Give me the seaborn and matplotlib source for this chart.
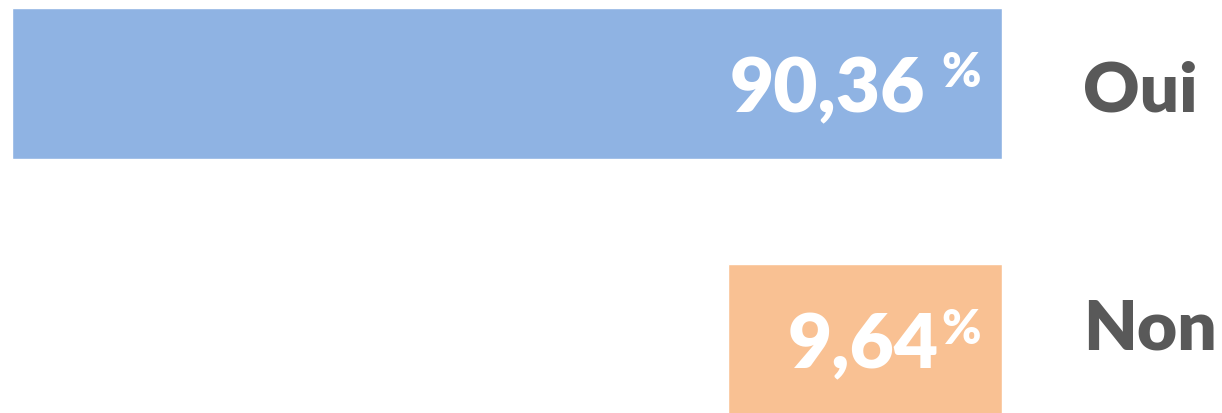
import numpy as np
import matplotlib
matplotlib.use("Agg")
import matplotlib.pyplot as plt
import seaborn as sns

# data
categories = ["Oui", "Non"]
values = [90.36, 9.64]
value_labels = ["90,36", "9,64"]

colors = ["#8FB3E3", "#F9C193"]
text_gray = "#595959"
font = ["Lato", "DejaVu Sans"]

sns.set_style("white")
plt.rcParams["font.family"] = font

fig = plt.figure(figsize=(12.22, 4.14), dpi=100)
ax = fig.add_axes([0, 0, 1002 / 1222, 1])

# power scale so the small bar still holds its label
p = 0.575
ax.set_xscale("function", functions=(lambda x: np.power(np.clip(x, 0, None), p),
                                     lambda y: np.power(np.clip(y, 0, None), 1 / p)))

sns.barplot(x=values, y=categories, hue=categories, palette=colors, orient="h",
            width=0.59, saturation=1, legend=False, ax=ax)

ax.set_xlim(92.2, 0)   # bars grow to the left
ax.set_ylim(1.285, -0.329)
ax.axis("off")

gaps = [16, 3]
for i, cat in enumerate(categories):
    pct = ax.annotate("%", xy=(0, i), xycoords="data", xytext=(-21, 33),
                      textcoords="offset pixels", ha="right", va="top",
                      color="white", fontsize=34, fontweight="heavy")
    ax.annotate(value_labels[i], xy=(0, i), xycoords=(pct, "data"),
                xytext=(-gaps[i], -27.5), textcoords="offset pixels",
                ha="right", va="baseline", color="white",
                fontsize=55, fontweight="heavy")
    ax.annotate(cat, xy=(1083 / 1222, i), xycoords=("figure fraction", "data"),
                xytext=(0, -27.5 + (19 if i == 1 else 0)), textcoords="offset pixels",
                ha="left", va="baseline", color=text_gray,
                fontsize=50, fontweight="heavy")

fig.savefig("out.png", dpi=100)
